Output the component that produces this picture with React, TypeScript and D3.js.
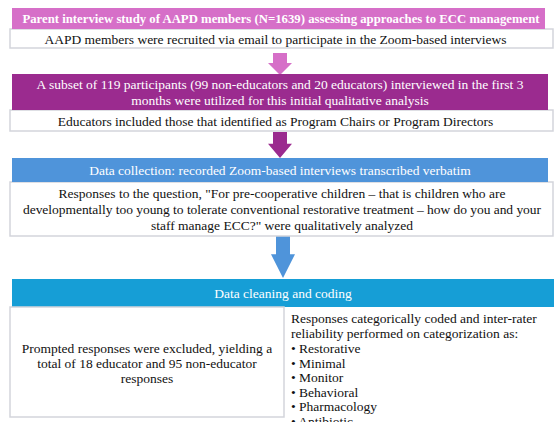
import React from 'react'
import * as d3 from 'd3'

// flowchart content
const headers = [
  ['Parent interview study of AAPD members (N=1639) assessing approaches to ECC management'],
  [
    'A subset of 119 participants (99 non-educators and 20 educators) interviewed in the first 3',
    'months were utilized for this initial qualitative analysis',
  ],
  ['Data collection: recorded Zoom-based interviews transcribed verbatim'],
  ['Data cleaning and coding'],
]
const details = [
  ['AAPD members were recruited via email to participate in the Zoom-based interviews'],
  ['Educators included those that identified as Program Chairs or Program Directors'],
  [
    'Responses to the question, "For pre-cooperative children \u2013 that is children who are',
    'developmentally too young to tolerate conventional restorative treatment \u2013 how do you and your',
    'staff manage ECC?" were qualitatively analyzed',
  ],
]
const exclusionText = [
  'Prompted responses were excluded, yielding a',
  'total of 18 educator and 95 non-educator',
  'responses',
]
const codingIntro = [
  'Responses categorically coded and inter-rater',
  'reliability performed on categorization as:',
]
const categories = ['Restorative', 'Minimal', 'Monitor', 'Behavioral', 'Pharmacology', 'Antibiotic']

const headerColors = ['#d66fc8', '#9b2b8f', '#4f94da', '#169ed6']
const headerBold = [true, false, false, false]

// layout (px)
const headerBoxes = [
  { x: 12, y: 8, w: 533, h: 21 },
  { x: 12, y: 74, w: 536, h: 36 },
  { x: 12, y: 158, w: 536, h: 24 },
  { x: 12, y: 279, w: 545, h: 28 },
]
const detailBoxes = [
  { x: 10, y: 29, w: 543, h: 19 },
  { x: 10, y: 110, w: 543, h: 21 },
  { x: 10, y: 182, w: 543, h: 54 },
]
const arrows = [
  { cx: 280, y0: 53, y1: 75, color: headerColors[0] },
  { cx: 280, y0: 132, y1: 158, color: headerColors[1] },
  { cx: 283, y0: 235, y1: 278, color: headerColors[2] },
]

const W = 554
const H = 422
const FONT = "'Liberation Serif', serif"
const FS = 13.5

function arrowPath(cx: number, y0: number, y1: number) {
  const shaftW = 14
  const headW = 24
  const yH = y1 - (y1 - y0) * 0.55
  const p = d3.path()
  p.moveTo(cx - shaftW / 2, y0)
  p.lineTo(cx + shaftW / 2, y0)
  p.lineTo(cx + shaftW / 2, yH)
  p.lineTo(cx + headW / 2, yH)
  p.lineTo(cx, y1)
  p.lineTo(cx - headW / 2, yH)
  p.lineTo(cx - shaftW / 2, yH)
  p.closePath()
  return p.toString()
}

const TextBlock: React.FC<{
  lines: string[]
  cx: number
  cy: number
  fill: string
  bold?: boolean
  size?: number
  lineH?: number
  stretch?: (number | null)[]
}> = ({ lines, cx, cy, fill, bold, size = FS, lineH = 16, stretch }) => (
  <text
    textAnchor="middle"
    fill={fill}
    fontFamily={FONT}
    fontSize={size}
    fontWeight={bold ? 'bold' : 'normal'}
  >
    {lines.map((l, i) => (
      <tspan
        key={i}
        x={cx}
        y={cy + (i - (lines.length - 1) / 2) * lineH}
        dy="0.35em"
        textLength={stretch && stretch[i] ? stretch[i]! : undefined}
        lengthAdjust="spacing"
      >
        {l}
      </tspan>
    ))}
  </text>
)

const App: React.FC = () => {
  const listRows = [
    ...codingIntro.map((t, i) => ({ t, y: 318 + i * 15 })),
    ...categories.map((c, i) => ({ t: '\u2022 ' + c, y: 348.5 + i * 14.5 })),
  ]
  return (
    <svg width={W} height={H} style={{ position: 'absolute', left: 0, top: 0 }}>
      <rect width={W} height={H} fill="#fff" />
      {arrows.map((a, i) => (
        <path key={i} d={arrowPath(a.cx, a.y0, a.y1)} fill={a.color} />
      ))}
      {detailBoxes.map((b, i) => (
        <g key={i}>
          <rect x={b.x} y={b.y} width={b.w} height={b.h} fill="#fff" stroke="#d3d5db" strokeWidth={1.5} />
          <TextBlock
            lines={details[i]}
            cx={i === 2 ? 282 : b.x + b.w / 2 - 6}
            cy={b.y + b.h / 2 + 0.5}
            fill="#111"
            stretch={i === 2 ? [null, 518, null] : undefined}
          />
        </g>
      ))}
      {headerBoxes.map((b, i) => (
        <g key={i}>
          <rect x={b.x} y={b.y} width={b.w} height={b.h} fill={headerColors[i]} />
          <TextBlock
            lines={headers[i]}
            cx={i === 3 ? 283 : i === 0 ? 281 : b.x + b.w / 2}
            cy={b.y + b.h / 2}
            fill="#fff"
            bold={headerBold[i]}
            size={headerBold[i] ? 12.75 : FS}
          />
        </g>
      ))}
      <rect x={10} y={307} width={274} height={110} fill="#fff" stroke="#d3d5db" strokeWidth={1.5} />
      <TextBlock lines={exclusionText} cx={147} cy={363} fill="#111" lineH={15} />
      {listRows.map((r, i) => (
        <text key={i} x={291} y={r.y} dy="0.35em" fill="#111" fontFamily={FONT} fontSize={FS}>
          {r.t}
        </text>
      ))}
    </svg>
  )
}

export default App
